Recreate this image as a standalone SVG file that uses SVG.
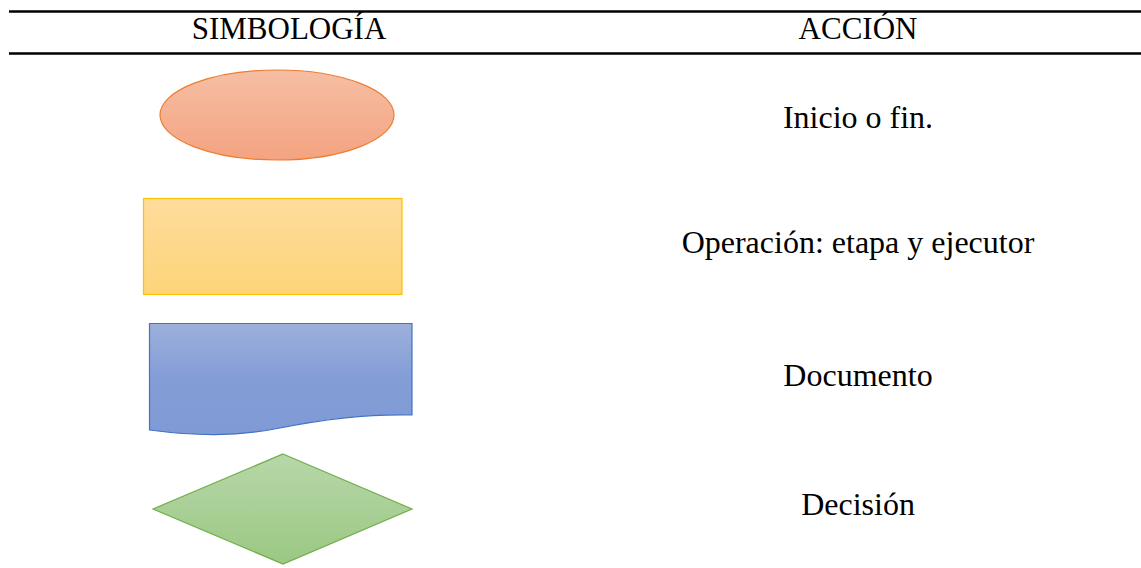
<svg xmlns="http://www.w3.org/2000/svg" width="1141" height="568" viewBox="0 0 1141 568">
<style>
.t{font-family:'Liberation Serif','Times New Roman',serif;font-size:32px;fill:#000;text-anchor:middle}
.h{font-size:31px}
.rule{stroke:#000;stroke-width:2.5}
</style>
<defs>
<linearGradient id="gO" x1="0" y1="0" x2="0" y2="1"><stop offset="0" stop-color="#F6BEA4"/><stop offset="1" stop-color="#F4A380"/></linearGradient>
<linearGradient id="gY" x1="0" y1="0" x2="0" y2="1"><stop offset="0" stop-color="#FEDC9C"/><stop offset="1" stop-color="#FDD478"/></linearGradient>
<linearGradient id="gB" x1="0" y1="0" x2="0" y2="1"><stop offset="0" stop-color="#9DB0DC"/><stop offset="0.5" stop-color="#839DD6"/><stop offset="1" stop-color="#7F9AD5"/></linearGradient>
<linearGradient id="gG" x1="0" y1="0" x2="0" y2="1"><stop offset="0" stop-color="#B7D7A9"/><stop offset="1" stop-color="#9BC883"/></linearGradient>
</defs>
<g id="header">
<line class="rule" x1="9" y1="11.5" x2="1141" y2="11.5"/>
<line class="rule" x1="9" y1="53.5" x2="1141" y2="53.5"/>
<text class="t h" x="289" y="39">SIMBOLOGÍA</text>
<text class="t h" x="858" y="39">ACCIÓN</text>
</g>
<g id="inicio">
<ellipse cx="277" cy="115" rx="117" ry="45" fill="url(#gO)" stroke="#ED7D31" stroke-width="1.2"/>
<text class="t" x="858" y="128">Inicio o fin.</text>
</g>
<g id="operacion">
<rect x="143.5" y="198.5" width="258.5" height="96" fill="url(#gY)" stroke="#FFC000" stroke-width="1.2"/>
<text class="t" x="858" y="253">Operación: etapa y ejecutor</text>
</g>
<g id="documento">
<path d="M149.5,323.5 H412 V415 C370,414 330,418 280,428 C235,437 195,436 149.5,430 Z" fill="url(#gB)" stroke="#4472C4" stroke-width="1.2"/>
<text class="t" x="858" y="386">Documento</text>
</g>
<g id="decision">
<polygon points="283,454 412,509 283,564 153,509" fill="url(#gG)" stroke="#70AD47" stroke-width="1.2"/>
<text class="t" x="858" y="515">Decisión</text>
</g>
<g id="connectors"/>
</svg>
